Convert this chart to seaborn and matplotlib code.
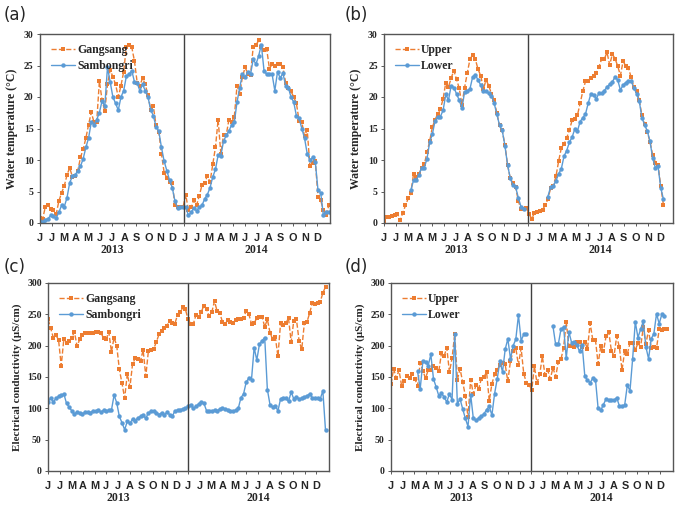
import numpy as np
import pandas as pd
import matplotlib
matplotlib.use("Agg")
import matplotlib.pyplot as plt
import seaborn as sns

# === DATA (weekly readings, Jan 2013 - Dec 2014) ===
months = ["J", "J", "M", "A", "M", "J", "J", "A", "S", "O", "N", "D"]
years = ["2013", "2014"]

# (a) water temperature, Gangsang vs Sambongri
gangsang_wt = [0.8, 0.7, 2.6, 2.8, 2.2, 2.0, 1.4, 3.5, 4.8, 5.9,
               7.6, 8.8, 7.3, 7.5, 8.3, 10.4, 11.7, 13.5, 15.6, 17.6,
               16.0, 16.0, 22.5, 19.5, 17.8, 22.0, 24.3, 23.2, 22.0, 20.0,
               21.8, 24.0, 28.0, 28.2, 27.9, 25.7, 22.3, 21.8, 23.0, 22.0,
               20.3, 18.0, 18.5, 15.5, 14.5, 11.0, 8.0, 7.2, 6.5, 6.3,
               2.8, 2.5, 2.5,
               2.5, 4.5, 2.0, 2.5, 3.6, 2.8, 4.3, 6.0, 6.3, 7.5,
               6.5, 9.3, 12.0, 16.4, 11.0, 14.0, 14.0, 16.4, 16.0, 16.9,
               21.8, 20.5, 23.2, 24.7, 23.7, 23.5, 28.0, 28.2, 29.0, 28.0,
               27.5, 27.6, 24.5, 25.2, 25.0, 25.3, 25.3, 24.7, 22.3, 21.5,
               20.9, 20.0, 19.0, 16.2, 16.0, 13.8, 14.8, 9.1, 9.5, 9.8,
               4.2, 3.6, 2.0, 1.2, 2.8]
sambongri_wt = [0.3, 0.2, 0.5, 0.7, 1.2, 1.1, 0.8, 1.7, 2.8, 2.6,
                4.0, 6.4, 7.4, 7.6, 8.3, 9.0, 10.2, 12.0, 13.5, 16.0,
                15.6, 16.4, 17.5, 19.4, 18.5, 24.7, 22.4, 20.0, 19.0, 17.9,
                20.0, 21.0, 23.3, 23.6, 24.2, 22.4, 22.2, 21.0, 22.0, 21.0,
                20.0, 18.0, 17.0, 15.3, 14.6, 12.0, 9.8, 8.3, 6.8, 5.6,
                3.5, 2.4, 2.5,
                2.6, 2.5, 1.2, 1.7, 2.4, 1.9, 2.5, 2.8, 3.8, 4.5,
                5.6, 7.3, 8.5, 10.8, 10.7, 13.0, 13.9, 14.6, 15.6, 16.0,
                19.2, 21.5, 23.6, 23.2, 23.9, 23.6, 26.0, 25.2, 26.5, 28.3,
                24.2, 23.6, 23.6, 23.6, 21.0, 24.0, 23.0, 23.8, 21.8, 21.5,
                20.0, 19.2, 17.0, 16.6, 15.0, 13.5, 11.0, 10.0, 10.4, 9.7,
                5.2, 4.8, 1.2, 1.8, 1.8]

# (b) water temperature, Upper vs Lower
upper_wt = [0.3, 1.0, 0.9, 1.1, 1.2, 1.5, 0.4, 1.6, 2.8, 3.9,
            4.8, 7.8, 7.3, 7.8, 8.7, 9.3, 11.2, 13.0, 15.2, 16.4,
            17.3, 18.1, 19.7, 22.3, 21.6, 23.0, 24.2, 22.8, 21.4, 18.8,
            21.5, 23.8, 26.0, 26.7, 26.0, 24.4, 23.4, 21.3, 22.7, 21.8,
            20.5, 19.5, 17.4, 15.5, 14.7, 12.4, 9.2, 7.1, 6.3, 5.7,
            3.5, 2.2, 2.2,
            2.4, 1.4, 0.7, 1.6, 1.7, 1.9, 2.1, 2.8, 3.8, 5.5,
            5.9, 7.4, 9.8, 11.9, 12.5, 13.5, 14.7, 16.3, 16.5, 17.1,
            19.0, 20.9, 22.5, 22.6, 23.0, 23.3, 23.8, 24.8, 26.0, 26.0,
            27.1, 25.1, 26.8, 26.1, 24.9, 23.4, 25.7, 24.9, 24.6, 23.1,
            21.6, 21.0, 19.5, 17.1, 15.7, 14.5, 12.9, 10.8, 9.6, 9.2,
            5.9, 2.9]
lower_wt = [None] * 10 + [
            5.2, 6.8, 6.9, 7.6, 8.8, 8.8, 10.2, 12.8, 14.1, 16.2,
            16.9, 16.9, 17.9, 20.4, 19.5, 21.8, 21.5, 20.5, 19.5, 18.2,
            20.8, 21.0, 21.3, 23.2, 23.5, 22.7, 21.9, 21.0, 20.9, 20.6,
            20.2, 19.0, 17.3, 15.5, 14.7, 12.3, 9.2, 7.1, 6.0, 5.7,
            4.0, 2.6, 2.3] + [None] * 8 + [
            4.2, 5.7, 5.9, 6.7, 7.8, 8.6, 10.6, 11.5, 12.8, 13.6,
            14.9, 14.6, 16.1, 16.7, 17.3, 19.0, 20.5, 20.3, 19.7, 20.6,
            20.6, 21.0, 21.6, 22.0, 22.4, 23.2, 22.7, 21.1, 21.9, 22.3,
            22.6, 22.5, 21.5, 20.5, 19.4, 16.7, 15.6, 14.6, 13.0, 10.3,
            8.8, 9.0, 5.6, 3.8]

# (c) electrical conductivity, Gangsang vs Sambongri
gangsang_ec = [242, 228, 213, 217, 209, 168, 211, 205, 207, 213,
               222, 199, 210, 217, 220, 220, 220, 220, 222, 222,
               221, 212, 210, 222, 190, 213, 200, 162, 140, 116,
               155, 134, 171, 180, 179, 176, 193, 151, 192, 193,
               195, 206, 218, 224, 228, 232, 239, 236, 235, 249,
               253, 261, 258,
               242, 235, 235, 249, 245, 254, 264, 258, 247, 254,
               271, 255, 252, 238, 234, 241, 237, 236, 241, 242,
               243, 244, 256, 250, 235, 236, 244, 245, 246, 230,
               242, 221, 210, 214, 183, 236, 233, 236, 244, 206,
               240, 242, 208, 194, 236, 238, 252, 268, 266, 268,
               270, 284, 294]
sambongri_ec = [110, 117, 110, 116, 119, 121, 123, 108, 102, 96,
                91, 94, 93, 91, 94, 94, 93, 96, 95, 97,
                94, 97, 96, 97, 97, 121, 109, 87, 77, 66,
                79, 76, 83, 80, 85, 87, 89, 84, 93, 95,
                95, 93, 90, 93, 89, 94, 90, 87, 96, 97,
                98, 99, 100,
                103, 106, 100, 103, 107, 110, 108, 96, 95, 96,
                97, 96, 99, 100, 99, 98, 95, 95, 97, 100,
                117, 123, 142, 148, 146, 197, 177, 202, 208, 213,
                130, 106, 102, 104, 96, 115, 117, 116, 111, 126,
                115, 118, 115, 116, 118, 120, 123, 117, 117, 117,
                115, 128, 65]

# (d) electrical conductivity, Upper vs Lower
upper_ec = [139, 163, 148, 161, 136, 143, 152, 148, 155, 147,
            136, 173, 160, 148, 161, 161, 168, 165, 159, 188,
            183, 197, 158, 180, 219, 146, 163, 142, 120, 86,
            146, 123, 137, 131, 147, 150, 158, 112, 139, 154,
            161, 169, 173, 170, 143, 176, 191, 196, 169, 196,
            155, 141, 138,
            129, 167, 140, 154, 183, 153, 161, 147, 165, 150,
            174, 178, 197, 238, 199, 200, 198, 206, 206, 198,
            206, 195, 236, 209, 209, 171, 199, 191, 215, 222,
            192, 184, 215, 198, 161, 191, 187, 204, 204, 193,
            204, 198, 229, 203, 225, 196, 198, 196, 226, 225,
            226, 226]
lower_ec = [None] * 10 + [
            159, 131, 175, 174, 168, 186, 147, 134, 120, 124,
            118, 110, 123, 114, 219, 107, 115, 99, 84, 71,
            122, 84, 81, 84, 87, 91, 98, 103, 89, 123,
            147, 175, 158, 194, 211, 179, 200, 210, 249, 208,
            218, 218, None] + [None] * 8 + [
            231, 202, 202, 226, 230, 180, 222, 205, 206, 201,
            191, 201, 151, 145, 141, 148, 146, 100, 97, 106,
            115, 113, 113, 113, 117, 104, 104, 105, 137, 128,
            179, 238, 213, 226, 239, 198, 179, 211, 219, 251,
            235, 250, 248, None]

# === STYLE ===
sns.set_style("white")
plt.rcParams["font.family"] = ["Liberation Serif", "DejaVu Serif"]
ORANGE = "#ED7D31"
BLUE = "#5B9BD5"

fig = plt.figure(figsize=(6.81, 5.05), dpi=100)
W, H = 681, 505


def make_ax(l, t, r, b):
    return fig.add_axes([l / W, 1 - b / H, (r - l) / W, (b - t) / H])


def series_frame(x, values):
    # split the line wherever there is a gap in the record
    y = np.array(values, dtype=float)
    seg = np.cumsum(np.isnan(y))
    return pd.DataFrame({"x": x, "y": y, "seg": seg}).dropna()


panels = [
    dict(box=(40, 34, 330, 223), tag="(a)", tag_xy=(4, 15),
         names=("Gangsang", "Sambongri"), series=(gangsang_wt, sambongri_wt),
         xend=24.0, ymax=30, ystep=5, ylabel="Water temperature (\u00b0C)", yfs=8.5),
    dict(box=(384, 34, 673, 223), tag="(b)", tag_xy=(345, 15),
         names=("Upper", "Lower"), series=(upper_wt, lower_wt),
         xend=23.3, ymax=30, ystep=5, ylabel="Water temperature (\u00b0C)", yfs=8.5),
    dict(box=(48, 283, 329, 471), tag="(c)", tag_xy=(4, 267),
         names=("Gangsang", "Sambongri"), series=(gangsang_ec, sambongri_ec),
         xend=23.8, ymax=300, ystep=50, ylabel="Electrical conductivity (\u03bcS/cm)", yfs=8),
    dict(box=(391, 283, 673, 471), tag="(d)", tag_xy=(345, 267),
         names=("Upper", "Lower"), series=(upper_ec, lower_ec),
         xend=23.6, ymax=300, ystep=50, ylabel="Electrical conductivity (\u03bcS/cm)", yfs=8),
]

for p in panels:
    ax = make_ax(*p["box"])
    n = len(p["series"][0])
    x = np.linspace(0, p["xend"], n)

    styles = [dict(color=ORANGE, linestyle="--", marker="s"),
              dict(color=BLUE, linestyle="-", marker="o")]
    for name, vals, st in zip(p["names"], p["series"], styles):
        df = series_frame(x, vals)
        sns.lineplot(data=df, x="x", y="y", units="seg", estimator=None, ax=ax,
                     color=st["color"], linestyle=st["linestyle"], linewidth=1.0,
                     marker=st["marker"], markersize=3.2, markeredgewidth=0,
                     label=name)

    # year divider
    ax.axvline(12, color="#404040", linewidth=1.0)

    ax.set_xlim(0, 24.1)
    ax.set_ylim(0, p["ymax"])
    ax.set_yticks(np.arange(0, p["ymax"] + 1, p["ystep"]))
    ax.set_yticklabels([str(v) for v in range(0, p["ymax"] + 1, p["ystep"])],
                       fontsize=7, fontweight="bold")
    ax.set_xticks(np.arange(24))
    ax.set_xticklabels(months * 2, fontsize=7.8, fontweight="bold",
                       family=["Liberation Sans"])
    ax.tick_params(axis="both", direction="out", length=2.5, width=0.6,
                   color="#404040", pad=2, bottom=True, left=True)
    ax.tick_params(axis="x", pad=5)
    for s in ax.spines.values():
        s.set_color("#555555")
        s.set_linewidth(1.0)

    ax.set_xlabel("")
    ax.set_ylabel(p["ylabel"], fontsize=p["yfs"], fontweight="bold", labelpad=4)

    # year labels under the month letters
    hgt = p["box"][3] - p["box"][1]
    for i, yr in enumerate(years):
        ax.text(6 + 12 * i, -27 / hgt, yr, transform=ax.get_xaxis_transform(),
                ha="center", va="center", fontsize=8.5, fontweight="bold")

    # one legend entry per series
    handles, labels = ax.get_legend_handles_labels()
    uniq = dict(zip(labels, handles))
    ax.legend(list(uniq.values()), list(uniq.keys()), loc="upper left",
              bbox_to_anchor=(0.01, 0.99), frameon=False,
              prop={"weight": "bold", "size": 8.5}, handlelength=2.0,
              handletextpad=0.2, labelspacing=0.3, borderaxespad=0.3)

    fig.text(p["tag_xy"][0] / W, 1 - p["tag_xy"][1] / H, p["tag"],
             fontsize=12, family=["DejaVu Sans"], va="center", ha="left")

plt.savefig("out.png", dpi=100)
plt.close()
